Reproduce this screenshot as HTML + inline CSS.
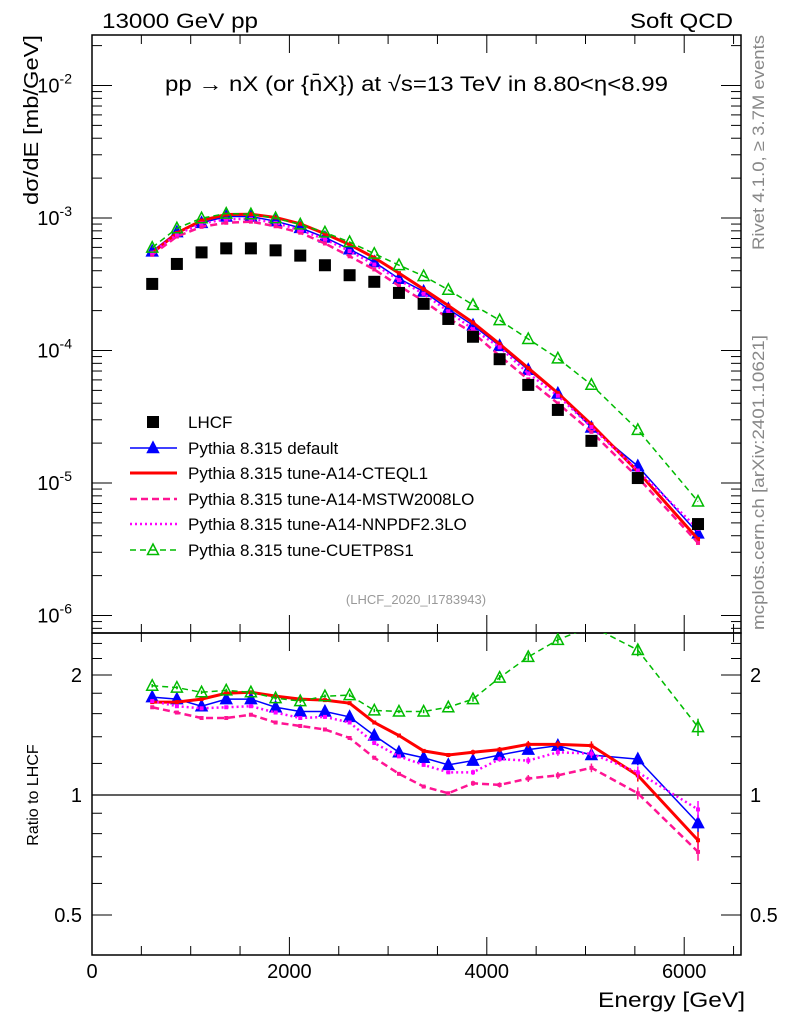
<!DOCTYPE html>
<html><head><meta charset="utf-8"><style>
body{margin:0;background:#fff;}
svg{display:block;font-family:"Liberation Sans",sans-serif;}
</style></head><body>
<svg id="chart" width="786" height="1024" viewBox="0 0 786 1024" xmlns="http://www.w3.org/2000/svg">
<rect x="0" y="0" width="786" height="1024" fill="#fff"/>
<text x="102" y="28" font-size="21" textLength="156" lengthAdjust="spacingAndGlyphs">13000 GeV pp</text>
<text x="630" y="28" font-size="21" textLength="103" lengthAdjust="spacingAndGlyphs">Soft QCD</text>
<text x="165" y="91" font-size="21" textLength="503" lengthAdjust="spacingAndGlyphs">pp → nX (or {n̄X}) at √s=13 TeV in 8.80&lt;η&lt;8.99</text>
<text transform="translate(38,120) rotate(-90)" font-size="20" text-anchor="middle" textLength="170" lengthAdjust="spacingAndGlyphs">dσ/dE [mb/GeV]</text>
<text transform="translate(38,795) rotate(-90)" font-size="16" text-anchor="middle">Ratio to LHCF</text>
<text x="598" y="1007" font-size="21" textLength="147" lengthAdjust="spacingAndGlyphs">Energy [GeV]</text>
<text transform="translate(764,35) rotate(-90)" font-size="17" fill="#888" text-anchor="end" textLength="215" lengthAdjust="spacingAndGlyphs">Rivet 4.1.0, ≥ 3.7M events</text>
<text transform="translate(764,630) rotate(-90)" font-size="17" fill="#888" textLength="295" lengthAdjust="spacingAndGlyphs">mcplots.cern.ch [arXiv:2401.10621]</text>
<text x="416" y="604" font-size="13" fill="#999" text-anchor="middle">(LHCF_2020_I1783943)</text>
<g id="axes"></g>
<g id="series"></g>
<g id="legend"></g>
</svg>
<script>
const energies=[610,860,1110,1360,1610,1860,2110,2360,2610,2860,3110,3360,3610,3860,4130,4420,4720,5060,5530,6140];
const lhcf=[3.18e-4,4.5e-4,5.5e-4,5.9e-4,5.9e-4,5.7e-4,5.2e-4,4.4e-4,3.7e-4,3.3e-4,2.72e-4,2.25e-4,1.73e-4,1.27e-4,8.6e-5,5.5e-5,3.56e-5,2.08e-5,1.09e-5,4.9e-6];
const ratioDefault=[1.76,1.74,1.67,1.74,1.74,1.66,1.62,1.62,1.57,1.41,1.28,1.24,1.19,1.22,1.26,1.30,1.33,1.26,1.23,0.85];
const ratioCTEQ=[1.71,1.71,1.74,1.80,1.81,1.77,1.74,1.73,1.70,1.52,1.41,1.29,1.26,1.28,1.30,1.34,1.34,1.33,1.12,0.77];
const ratioMSTW=[1.66,1.61,1.56,1.56,1.59,1.52,1.49,1.46,1.39,1.24,1.13,1.05,1.01,1.07,1.06,1.10,1.12,1.17,1.01,0.72];
const ratioNNPDF=[1.72,1.67,1.65,1.66,1.67,1.61,1.56,1.57,1.52,1.35,1.25,1.19,1.14,1.14,1.23,1.22,1.28,1.27,1.14,0.92];
const ratioCUETP=[1.88,1.86,1.81,1.83,1.81,1.75,1.72,1.77,1.78,1.63,1.62,1.62,1.66,1.74,1.97,2.22,2.45,2.65,2.31,1.48];
const ratioErr=[0.01,0.01,0.01,0.01,0.01,0.01,0.01,0.01,0.01,0.01,0.01,0.01,0.01,0.015,0.015,0.02,0.02,0.025,0.035,0.05];
const xTicks=[0,2000,4000,6000];
const yTickExps=[-2,-3,-4,-5,-6];
const ratioTicks=[2,1,0.5];
const ratioTickLabels=["2","1","0.5"];

const NS="http://www.w3.org/2000/svg";
const L=92,R=741,T=35,MB=633,RT=633,RB=955;
const xs=v=>L+v*0.0987;
const ys=v=>218-132.5*(Math.log10(v)+3);
const yr=r=>795-120*Math.log2(r);
function mk(tag,attrs,parent){const e=document.createElementNS(NS,tag);for(const k in attrs)e.setAttribute(k,attrs[k]);parent.appendChild(e);return e;}
const axes=document.getElementById('axes'),ser=document.getElementById('series'),leg=document.getElementById('legend');

let f1=mk('rect',{x:L,y:T,width:R-L,height:MB-T,fill:'none',stroke:'#000','stroke-width':1.5},axes);


let f2=mk('rect',{x:L,y:RT,width:R-L,height:RB-RT,fill:'none',stroke:'#000','stroke-width':1.5},axes);


let one=mk('line',{x1:L,x2:R,y1:yr(1),y2:yr(1),stroke:'#000','stroke-width':1.3},axes);



for(let v=0;v<=6500;v+=500){
  const x=xs(v),len=(v%2000===0)?18:9;
  for(const [y0,dir] of [[T,1],[MB,-1],[RT,1],[RB,-1]]){
    mk('line',{x1:x,x2:x,y1:y0,y2:y0+dir*len,stroke:'#000','stroke-width':1},axes);
  }
}
xTicks.forEach(v=>{
  const t=mk('text',{x:xs(v),y:978,'font-size':20,'text-anchor':'middle'},axes);
  t.textContent=String(v);
  
  
});
for(let e=-7;e<=-2;e++){
  for(let m=1;m<10;m++){
    const v=m*Math.pow(10,e),y=ys(v);
    if(y<T||y>MB)continue;
    const len=m===1?20:10;
    mk('line',{x1:L,x2:L+len,y1:y,y2:y,stroke:'#000','stroke-width':1},axes);
    mk('line',{x1:R,x2:R-len,y1:y,y2:y,stroke:'#000','stroke-width':1},axes);
  }
}
yTickExps.forEach(e=>{
  const t=mk('text',{x:72,y:ys(Math.pow(10,e))+7,'font-size':20,'text-anchor':'end'},axes);
  t.innerHTML='10<tspan dy="-9" font-size="14">'+e+'</tspan>';
  
  
});
for(const r of [0.5,0.6,0.7,0.8,0.9,1,1.2,1.4,1.6,1.8,2,2.2,2.4]){
  const y=yr(r);if(y<RT||y>RB)continue;
  const len=(r===0.5||r===1||r===2)?20:10;
  mk('line',{x1:L,x2:L+len,y1:y,y2:y,stroke:'#000','stroke-width':1},axes);
  mk('line',{x1:R,x2:R-len,y1:y,y2:y,stroke:'#000','stroke-width':1},axes);
}
ratioTicks.forEach((r,i)=>{
  for(const [x,a] of [[82,'end'],[750,'start']]){
    const t=mk('text',{x:x,y:yr(r)+7,'font-size':20,'text-anchor':a},axes);
    t.textContent=ratioTickLabels[i];
    
    
  }
});

const clip=mk('clipPath',{id:'cm'},ser);mk('rect',{x:L,y:T,width:R-L,height:MB-T},clip);
const clip2=mk('clipPath',{id:'cr'},ser);mk('rect',{x:L,y:RT,width:R-L,height:RB-RT},clip2);

const models=[
 {name:'pythia-default',r:ratioDefault,color:'#0000ff',w:1.5,dash:'',marker:'tri'},
 {name:'pythia-a14-cteql1',r:ratioCTEQ,color:'#ff0000',w:3,dash:'',marker:'none'},
 {name:'pythia-a14-mstw2008lo',r:ratioMSTW,color:'#ff1493',w:2.5,dash:'7,4',marker:'none'},
 {name:'pythia-a14-nnpdf23lo',r:ratioNNPDF,color:'#ff00ff',w:2.5,dash:'2,3',marker:'none'},
 {name:'pythia-cuetp8s1',r:ratioCUETP,color:'#00bb00',w:1.5,dash:'6,4',marker:'otri'}
];
function tri(g,x,y,c,open){
  return mk('polygon',{points:`${x},${y-6} ${x-5.5},${y+4.5} ${x+5.5},${y+4.5}`,fill:open?'none':c,stroke:c,'stroke-width':1.5},g);
}
models.forEach(m=>{
  const gm=mk('g',{'clip-path':'url(#cm)'},ser);
  
  
  const gr=mk('g',{'clip-path':'url(#cr)'},ser);
  
  
  const pm=energies.map((e,i)=>xs(e)+','+ys(lhcf[i]*m.r[i])).join(' ');
  const pr=energies.map((e,i)=>xs(e)+','+yr(m.r[i])).join(' ');
  mk('polyline',{points:pm,fill:'none',stroke:m.color,'stroke-width':m.w,'stroke-dasharray':m.dash},gm);
  mk('polyline',{points:pr,fill:'none',stroke:m.color,'stroke-width':m.w,'stroke-dasharray':m.dash},gr);
  energies.forEach((e,i)=>{
    const x=xs(e),r=m.r[i],er=ratioErr[i];
    mk('line',{x1:x,x2:x,y1:yr(r*(1+er)),y2:yr(r*(1-er)),stroke:m.color,'stroke-width':1.5},gr);
    if(m.marker==='tri'){tri(gm,x,ys(lhcf[i]*r),m.color,false);tri(gr,x,yr(r),m.color,false);}
    else if(m.marker==='otri'){tri(gm,x,ys(lhcf[i]*r),m.color,true);tri(gr,x,yr(r),m.color,true);}
    else{mk('rect',{x:x-2,y:ys(lhcf[i]*r)-2,width:4,height:4,fill:m.color},gm);mk('rect',{x:x-2,y:yr(r)-2,width:4,height:4,fill:m.color},gr);}
  });
});
const gd=mk('g',{},ser);


energies.forEach((e,i)=>{
  const s=mk('rect',{x:xs(e)-6,y:ys(lhcf[i])-6,width:12,height:12,fill:'#000'},gd);
  
  
});

const labels=['LHCF','Pythia 8.315 default','Pythia 8.315 tune-A14-CTEQL1','Pythia 8.315 tune-A14-MSTW2008LO','Pythia 8.315 tune-A14-NNPDF2.3LO','Pythia 8.315 tune-CUETP8S1'];
const rowsY=[422,448,473,499,524,550];
labels.forEach((lab,i)=>{
  const g=mk('g',{},leg);
  
  
  const y=rowsY[i];
  if(i===0){mk('rect',{x:147,y:y-6,width:12,height:12,fill:'#000'},g);}
  else{
    const m=models[i-1];
    mk('line',{x1:130,x2:177,y1:y,y2:y,stroke:m.color,'stroke-width':m.w,'stroke-dasharray':m.dash},g);
    if(m.marker==='tri')tri(g,153,y,m.color,false);
    if(m.marker==='otri')tri(g,153,y,m.color,true);
  }
  const t=mk('text',{x:188,y:y+6,'font-size':17},g);
  t.textContent=lab;
});
</script>
</body></html>
